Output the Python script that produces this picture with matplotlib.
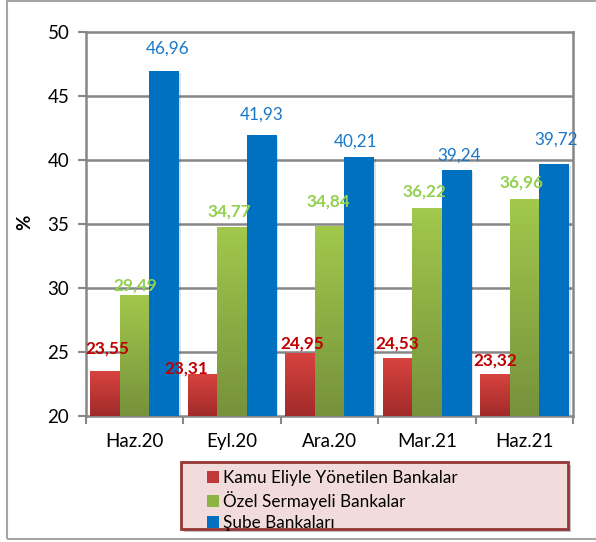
import numpy as np
import matplotlib
matplotlib.use("Agg")
import matplotlib.pyplot as plt
from matplotlib.patches import Rectangle, Patch
from matplotlib.colors import LinearSegmentedColormap

plt.rcParams['font.family'] = ['Lato', 'DejaVu Sans']

categories = ["Haz.20", "Eyl.20", "Ara.20", "Mar.21", "Haz.21"]
series_names = ["Kamu Eliyle Yönetilen Bankalar", "Özel Sermayeli Bankalar", "Şube Bankaları"]
kamu = [23.55, 23.31, 24.95, 24.53, 23.32]
ozel = [29.49, 34.77, 34.84, 36.22, 36.96]
sube = [46.96, 41.93, 40.21, 39.24, 39.72]
y_ticks = [20, 25, 30, 35, 40, 45, 50]

# label offsets (pixels) from the top-centre of each bar
kamu_off = [(2.5, 21.6), (-16.5, 5.6), (2.5, 9.6), (-0.5, 15), (0.5, 12.5)]
ozel_off = [(0.5, 9.5), (-2.5, 15.5), (-1.5, 25), (-3, 16.4), (-3, 16)]
sube_off = [(3, 22), (0, 21), (-3, 16), (2.5, 14), (2, 23.6)]

W, H = 596, 542
fig = plt.figure(figsize=(W / 100, H / 100), dpi=100)
ax = fig.add_axes([86 / W, 1 - 416 / H, 487 / W, 384 / H])

x = np.arange(len(categories))
bw = 0.303

series = [
    (kamu, -bw, ("#d8433f", "#a12b2a"), "#c00000", True, kamu_off),
    (ozel, 0.0, ("#a2c84c", "#76923c"), "#92d050", True, ozel_off),
    (sube, bw, ("#0070c0", "#0070c0"), "#1a78c8", False, sube_off),
]

ax.set_xlim(-0.5, len(categories) - 0.5)
ax.set_ylim(20, 50)

for vals, dx, (ctop, cbot), lcol, bold, offs in series:
    bars = ax.bar(x + dx, np.array(vals) - 20, bw, bottom=20, color=cbot,
                  zorder=3, linewidth=0)
    cmap = LinearSegmentedColormap.from_list("g", [cbot, ctop])
    grad = np.linspace(0, 1, 64).reshape(-1, 1)
    for b in bars:
        x0, y0 = b.get_x(), b.get_y()
        x1, y1 = x0 + b.get_width(), y0 + b.get_height()
        # soft drop shadow
        sh = Rectangle((x0 + 0.02, y0), b.get_width(), b.get_height() - 0.15,
                       color="#000000", alpha=0.12, zorder=2.5, linewidth=0)
        ax.add_patch(sh)
        im = ax.imshow(grad, extent=[x0, x1, y0, y1], origin="lower",
                       cmap=cmap, aspect="auto", zorder=3.5, interpolation="bicubic")
        im.set_clip_path(b)
    for i, v in enumerate(vals):
        ax.annotate(f"{v:.2f}".replace(".", ","), (x[i] + dx, v),
                    xytext=offs[i], textcoords="offset pixels",
                    ha="center", va="center", color=lcol, fontsize=12.3,
                    fontweight="bold" if bold else "normal", zorder=5)

ax.set_xlim(-0.5, len(categories) - 0.5)
ax.set_ylim(20, 50)

grid_col = "#878787"
for yv in y_ticks[1:-1]:
    ax.axhline(yv, color=grid_col, linewidth=1.8, zorder=1)
for s in ax.spines.values():
    s.set_color(grid_col)
    s.set_linewidth(1.8)

ax.set_yticks(y_ticks)
ax.set_yticklabels([str(v) for v in y_ticks], fontsize=13.5)
ax.tick_params(axis="y", length=6, width=1.5, color=grid_col, pad=6)
ax.set_xticks(x)
ax.set_xticklabels(categories, fontsize=13.5)
ax.tick_params(axis="x", length=0, pad=12)
ax.set_xticks(np.arange(len(categories) + 1) - 0.5, minor=True)
ax.tick_params(axis="x", which="minor", length=6, width=1.5, color=grid_col)

fig.text(25 / W, 1 - 222 / H, "%", rotation=90, fontsize=13.5, fontweight="bold",
         ha="center", va="center")

# outer frame
fig.patches.append(Rectangle((7 / W, 1 - 539 / H), 1.2, 538 / H, transform=fig.transFigure,
                             fill=False, edgecolor="#a6a6a6", linewidth=1.5))

# legend box
lx0, ly0, lx1, ly1 = 181, 462, 568, 529
fig.patches.append(Rectangle(((lx0 + 3) / W, 1 - (ly1 + 3) / H), (lx1 - lx0) / W, (ly1 - ly0) / H,
                             transform=fig.transFigure, facecolor="#000000", alpha=0.25,
                             edgecolor="none", zorder=1))
fig.patches.append(Rectangle((lx0 / W, 1 - ly1 / H), (lx1 - lx0) / W, (ly1 - ly0) / H,
                             transform=fig.transFigure, facecolor="#f2dcdb",
                             edgecolor="#953735", linewidth=2, zorder=2))

handles = [Patch(facecolor=c, edgecolor="none") for c in ("#c0393b", "#8db443", "#0070c0")]
leg = fig.legend(handles, series_names, loc="upper left",
                 bbox_to_anchor=(195 / W, 1 - 458 / H), frameon=False, fontsize=12.3,
                 handlelength=0.72, handleheight=0.72, handletextpad=0.22,
                 labelspacing=0.3, borderpad=0.2)
leg.set_zorder(3)

fig.savefig("out.png", dpi=100)
